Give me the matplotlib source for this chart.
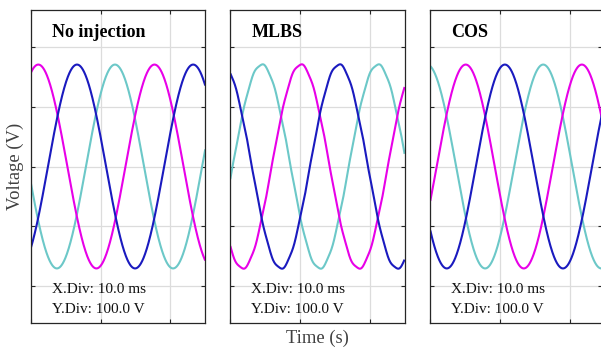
import numpy as np
import matplotlib
matplotlib.use("Agg")
import matplotlib.pyplot as plt

# ---- data ----
panel_titles = ["No injection", "MLBS", "COS"]
x_div_text = "X.Div: 10.0 ms"
y_div_text = "Y.Div: 100.0 V"
amplitude_v = 170.0          # peak phase voltage (V)
freq_hz = 60.0               # fundamental frequency
# time (ms) of first positive peak of each phase in each panel
peak_ms_magenta = [1.05, 10.1, 5.08]
peak_ms_blue = [6.6, 15.6, 10.7]
peak_ms_cyan = [12.05, 4.5, 16.2]
# small ripple (V) seen on the MLBS traces and its harmonic order
ripple_v = [0.0, 1.2, 0.0]
ripple_order = 11
x_end_s = [0.025, 0.025, 0.02463]
y_ticks = [-200, -100, 0, 100, 200]
x_ticks = [0.0, 0.01, 0.02]
y_lim = 261.0

colors = {"magenta": "#E800E8", "blue": "#1A1ABF", "cyan": "#6CC8C8"}

plt.rcParams['font.family'] = ['Liberation Serif', 'DejaVu Serif']

W, H = 601, 347
fig = plt.figure(figsize=(W / 100, H / 100), dpi=100)

lefts_px = [31.0, 230.3, 430.3]
px_per_s = 6970.0
top_px, bot_px = 10.0, 323.0

axes = []
for i, title in enumerate(panel_titles):
    width_px = x_end_s[i] * px_per_s
    ax = fig.add_axes([lefts_px[i] / W, (H - bot_px) / H,
                       width_px / W, (bot_px - top_px) / H])
    axes.append(ax)
    t = np.linspace(0, x_end_s[i], 800)
    w = 2 * np.pi * freq_hz
    for name, peaks in (("cyan", peak_ms_cyan), ("magenta", peak_ms_magenta),
                        ("blue", peak_ms_blue)):
        t0 = peaks[i] / 1000.0
        v = amplitude_v * np.cos(w * (t - t0))
        v = v + ripple_v[i] * np.sin(ripple_order * w * (t - t0))
        ax.plot(t, v, color=colors[name], lw=1.5, solid_capstyle='butt')
    ax.set_xlim(0, x_end_s[i])
    ax.set_ylim(-y_lim, y_lim)
    ax.set_xticks(x_ticks)
    ax.set_yticks(y_ticks)
    ax.set_xticklabels([])
    ax.set_yticklabels([])
    ax.tick_params(direction='in', length=3, width=0.8, color='#262626',
                   top=True, right=True)
    ax.grid(True, color='#DCDCDC', lw=0.9)
    ax.set_axisbelow(True)
    for s in ax.spines.values():
        s.set_color('#262626')
        s.set_linewidth(0.9)
    ax.text(0.12, 0.914, title, transform=ax.transAxes, fontsize=13,
            fontweight='bold', va='baseline', ha='left', color='black')
    ax.text(0.119, 0.095, x_div_text, transform=ax.transAxes, fontsize=11,
            va='baseline', ha='left', color='#111111')
    ax.text(0.119, 0.033, y_div_text, transform=ax.transAxes, fontsize=11,
            va='baseline', ha='left', color='#111111')

fig.text(15 / W, 1 - 166.5 / H, "Voltage (V)", rotation=90, fontsize=13.4,
         ha='center', va='center', color='#404040')
fig.text(317.5 / W, 1 - 338 / H, "Time (s)", fontsize=13.4,
         ha='center', va='center', color='#404040')

fig.savefig("out.png", dpi=100)
